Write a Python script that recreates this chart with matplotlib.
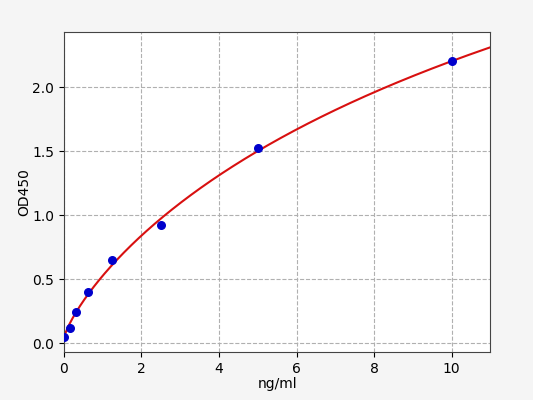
import numpy as np
import matplotlib
matplotlib.use("Agg")
import matplotlib.pyplot as plt

# standard concentrations (ng/ml) and measured OD450
conc = [0, 0.156, 0.3125, 0.625, 1.25, 2.5, 5, 10]
od450 = [0.05, 0.12, 0.245, 0.40, 0.65, 0.92, 1.52, 2.20]


def four_pl(x, a, b, c, d):
    return d + (a - d) / (1.0 + (x / c) ** b)


def fit_4pl(x, y):
    # grid over b, c; a and d are linear given those
    x = np.asarray(x, float)
    y = np.asarray(y, float)
    best = None
    for b in np.linspace(0.4, 2.0, 81):
        for c in np.geomspace(0.5, 200, 200):
            g = 1.0 / (1.0 + (x / c) ** b)
            A = np.column_stack([g, 1 - g])
            coef, res, _, _ = np.linalg.lstsq(A, y, rcond=None)
            err = np.sum((A @ coef - y) ** 2)
            if best is None or err < best[0]:
                best = (err, coef[0], b, c, coef[1])
    return best[1:]


a, b, c, d = fit_4pl(conc, od450)
xs = np.linspace(0, 11, 400)

fig = plt.figure(figsize=(5.33, 4), dpi=100, facecolor="#f5f5f5")
ax = fig.add_axes([0.12, 0.12, 0.8, 0.8])
ax.grid(True, linestyle="--", color="#b0b0b0", linewidth=0.8)
ax.set_axisbelow(True)
ax.plot(xs, four_pl(xs, a, b, c, d), color="#d81010", linewidth=1.5, zorder=2)
ax.scatter(conc, od450, color="#0000cc", s=30, zorder=3)
ax.set_xlim(0, 11)
ax.set_ylim(-0.07, 2.43)
ax.set_xticks([0, 2, 4, 6, 8, 10])
ax.set_yticks([0.0, 0.5, 1.0, 1.5, 2.0])
ax.set_xlabel("ng/ml", labelpad=1)
ax.set_ylabel("OD450", labelpad=1)
for s in ax.spines.values():
    s.set_color("#444444")

plt.savefig("out.png", dpi=100, facecolor=fig.get_facecolor())
